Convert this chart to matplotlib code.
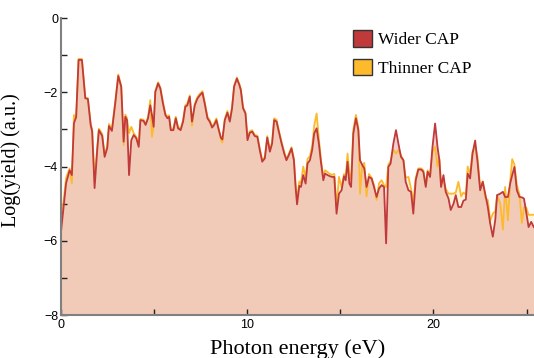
import matplotlib
matplotlib.use("Agg")
import matplotlib.pyplot as plt
from matplotlib.patches import Patch
from matplotlib.ticker import MultipleLocator

# photon energy grid (eV)
energy = [0.00, 0.28, 0.47, 0.59, 0.70, 0.82, 0.95, 1.13, 1.31, 1.45,
          1.60, 1.68, 1.81, 1.95, 2.04, 2.22, 2.35, 2.49, 2.58, 2.74,
          2.92, 3.08, 3.24, 3.37, 3.46, 3.55, 3.66, 3.78, 3.91, 4.05,
          4.18, 4.27, 4.44, 4.55, 4.68, 4.80, 4.89, 4.98, 5.07, 5.22,
          5.34, 5.48, 5.61, 5.72, 5.81, 5.90, 6.04, 6.17, 6.29, 6.43,
          6.56, 6.68, 6.79, 6.92, 7.04, 7.19, 7.33, 7.46, 7.60, 7.72,
          7.87, 7.99, 8.12, 8.23, 8.35, 8.48, 8.59, 8.67, 8.80, 8.94,
          9.07, 9.19, 9.30, 9.45, 9.58, 9.66, 9.78, 9.91, 10.02, 10.14,
          10.27, 10.41, 10.55, 10.68, 10.81, 10.95, 11.08, 11.22, 11.34, 11.45,
          11.58, 11.70, 11.85, 11.99, 12.11, 12.24, 12.38, 12.51, 12.60, 12.68,
          12.80, 12.89, 13.01, 13.14, 13.24, 13.37, 13.49, 13.60, 13.73, 13.85,
          13.96, 14.09, 14.18, 14.32, 14.44, 14.57, 14.68, 14.80, 14.93, 15.07,
          15.20, 15.29, 15.39, 15.49, 15.58, 15.70, 15.84, 15.97, 16.06, 16.18,
          16.29, 16.41, 16.54, 16.68, 16.81, 16.95, 17.08, 17.22, 17.35, 17.46,
          17.58, 17.70, 17.85, 17.99, 18.12, 18.26, 18.39, 18.51, 18.66, 18.80,
          18.92, 19.05, 19.19, 19.34, 19.46, 19.59, 19.69, 19.82, 19.95, 20.09,
          20.22, 20.32, 20.41, 20.54, 20.66, 20.81, 20.93, 21.08, 21.20, 21.34,
          21.49, 21.61, 21.74, 21.84, 21.97, 22.10, 22.24, 22.37, 22.51, 22.65,
          22.78, 22.92, 23.05, 23.19, 23.32, 23.42, 23.59, 23.73, 23.85, 24.00,
          24.12, 24.23, 24.35, 24.48, 24.62, 24.75, 24.86, 24.98, 25.11, 25.25,
          25.39]

wider = [-5.79, -4.45, -4.10, -4.23, -2.84, -2.66, -1.13, -1.13, -2.16, -2.18,
         -2.88, -3.06, -4.58, -3.56, -3.02, -3.18, -3.74, -3.50, -2.91, -3.04,
         -2.29, -1.56, -1.85, -3.33, -2.66, -2.75, -4.23, -3.29, -3.15, -3.24,
         -3.47, -2.75, -2.77, -2.88, -2.70, -2.35, -2.61, -2.93, -1.99, -1.76,
         -1.90, -2.30, -2.61, -2.70, -2.66, -3.02, -3.02, -2.70, -2.97, -3.02,
         -2.79, -2.39, -2.35, -2.12, -2.79, -2.35, -2.17, -2.08, -2.01, -2.30,
         -2.70, -2.79, -2.95, -2.88, -2.75, -3.02, -3.22, -3.27, -2.75, -2.55,
         -2.79, -2.43, -1.85, -1.63, -1.80, -1.94, -2.43, -2.57, -3.29, -3.09,
         -3.06, -3.18, -3.20, -3.56, -3.87, -3.78, -3.22, -3.60, -3.38, -2.75,
         -2.79, -3.06, -3.38, -3.65, -3.83, -3.69, -3.51, -3.83, -4.55, -5.02,
         -4.52, -4.55, -4.23, -4.46, -3.92, -3.83, -3.56, -3.11, -2.97, -3.38,
         -3.87, -4.37, -4.19, -4.23, -4.26, -4.28, -4.28, -5.27, -4.73, -4.64,
         -4.26, -4.37, -3.87, -4.46, -4.55, -3.11, -2.70, -3.02, -3.83, -3.96,
         -4.05, -4.55, -4.28, -4.32, -4.55, -4.82, -4.59, -4.50, -4.55, -6.07,
         -4.01, -3.92, -3.38, -3.02, -3.38, -3.74, -3.83, -4.41, -4.64, -4.68,
         -5.27, -4.37, -4.08, -4.08, -4.14, -4.55, -4.14, -4.28, -3.47, -2.84,
         -3.47, -3.83, -4.55, -4.23, -4.68, -4.86, -5.17, -5.00, -4.77, -5.09,
         -5.09, -4.92, -4.89, -4.19, -4.32, -3.65, -3.30, -3.88, -4.64, -4.41,
         -4.73, -5.09, -5.54, -5.89, -5.44, -4.77, -4.73, -4.68, -4.82, -4.82,
         -4.46, -4.23, -4.01, -4.64, -4.82, -4.83, -4.86, -5.22, -5.63, -5.49,
         -5.63]

thinner = [-5.60, -4.30, -4.05, -4.45, -2.61, -2.70, -1.10, -1.10, -2.14, -2.16,
           -2.85, -3.00, -4.40, -3.50, -2.98, -3.12, -3.68, -3.45, -2.85, -3.00,
           -2.25, -1.52, -1.82, -3.42, -2.60, -2.70, -3.10, -2.93, -3.10, -3.20,
           -3.40, -2.72, -2.74, -2.85, -2.66, -2.21, -3.20, -2.90, -1.96, -1.73,
           -1.87, -2.26, -2.58, -2.66, -2.62, -2.98, -2.98, -2.66, -2.93, -2.98,
           -2.75, -2.35, -2.30, -2.08, -2.90, -2.30, -2.13, -2.04, -1.97, -2.26,
           -2.66, -2.75, -2.92, -2.84, -2.70, -3.00, -3.28, -3.35, -2.72, -2.50,
           -2.75, -2.40, -1.82, -1.60, -1.78, -1.90, -2.40, -2.55, -3.24, -3.05,
           -3.02, -3.15, -3.17, -3.52, -3.82, -3.74, -3.18, -3.55, -3.34, -2.70,
           -2.74, -3.02, -3.34, -3.60, -3.80, -3.65, -3.48, -3.78, -4.45, -4.90,
           -4.40, -4.45, -4.00, -4.30, -3.80, -3.72, -3.45, -2.90, -2.57, -3.25,
           -3.80, -4.30, -4.10, -4.15, -4.20, -4.22, -4.20, -5.10, -4.28, -4.55,
           -4.20, -4.30, -3.65, -4.20, -4.35, -3.00, -2.61, -2.95, -4.73, -3.96,
           -3.90, -4.80, -4.20, -4.30, -4.50, -4.90, -4.45, -4.37, -4.50, -4.55,
           -3.95, -3.85, -3.55, -3.65, -3.55, -3.70, -3.83, -4.30, -4.28, -4.60,
           -5.00, -4.30, -4.05, -4.05, -4.10, -4.50, -4.10, -4.25, -3.60, -3.47,
           -4.00, -3.79, -4.45, -4.40, -4.60, -4.73, -4.73, -4.73, -4.70, -4.41,
           -4.80, -4.70, -4.75, -4.00, -4.20, -3.60, -3.47, -3.75, -4.55, -4.40,
           -4.85, -4.90, -5.45, -5.27, -5.20, -4.77, -5.00, -5.70, -4.55, -5.45,
           -4.40, -3.80, -3.95, -4.50, -4.75, -5.52, -5.10, -5.10, -5.30, -5.30,
           -5.30]

series_names = ["Wider CAP", "Thinner CAP"]
red = "#C0393B"
orange = "#FDBA2C"

fig = plt.figure(figsize=(5.34, 3.58), dpi=100)
ax = fig.add_axes([0.114, 0.12, 0.886, 0.8296])

ax.fill_between(energy, wider, -8, color=red, alpha=0.24, lw=0)
ax.fill_between(energy, thinner, -8, color=orange, alpha=0.15, lw=0)
ax.plot(energy, thinner, color=orange, lw=1.3)
ax.plot(energy, wider, color=red, lw=1.3)

ax.set_xlim(0, 25.4)
ax.set_ylim(-8, 0)
ax.xaxis.set_major_locator(MultipleLocator(10))
ax.xaxis.set_minor_locator(MultipleLocator(5))
ax.yaxis.set_major_locator(MultipleLocator(2))
ax.yaxis.set_minor_locator(MultipleLocator(1))

for s in ["top", "right"]:
    ax.spines[s].set_visible(False)
for s in ["left", "bottom"]:
    ax.spines[s].set_color("#808080")
    ax.spines[s].set_linewidth(1.5)

ax.tick_params(which="both", direction="in", length=4, width=1, color="#222222",
               labelsize=9)
ax.tick_params(axis="x", pad=3)
ax.tick_params(axis="y", pad=2)
for lab in ax.get_xticklabels() + ax.get_yticklabels():
    lab.set_family("Liberation Sans")

ax.set_xlabel("Photon energy (eV)", family="Liberation Serif", fontsize=16, labelpad=6)
ax.set_ylabel("Log(yield) (a.u.)", family="Liberation Serif", fontsize=14.5, labelpad=8)
ax.yaxis.set_label_coords(-0.084, 0.52)

handles = [Patch(facecolor=red, edgecolor="#333333", lw=1),
           Patch(facecolor=orange, edgecolor="#333333", lw=1)]
ax.legend(handles, series_names, loc="upper left", bbox_to_anchor=(0.618, 0.96),
          borderaxespad=0, borderpad=0,
          frameon=False, prop={"family": "Liberation Serif", "size": 12.5},
          handlelength=1.1, handleheight=1.1, handletextpad=0.3, labelspacing=0.6)

fig.savefig("out.png", dpi=100)
